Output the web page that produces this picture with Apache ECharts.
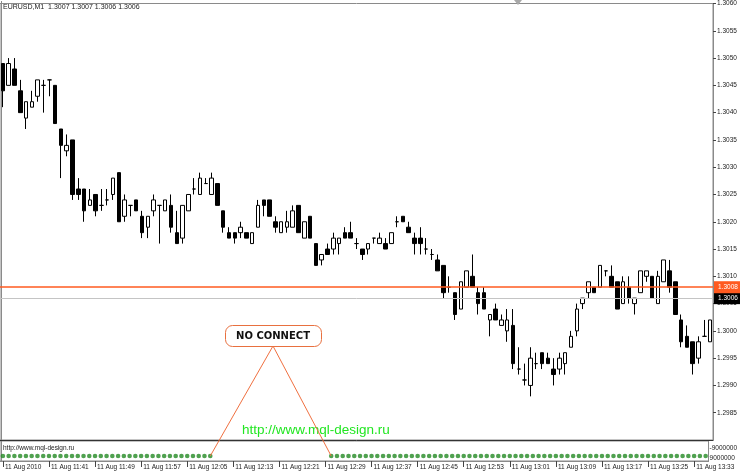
<!DOCTYPE html>
<html><head><meta charset="utf-8">
<script src="https://cdn.jsdelivr.net/npm/echarts@6/dist/echarts.min.js"></script>
<style>html,body{margin:0;padding:0;background:#fff}#c{width:740px;height:476px}</style>
</head><body><div id="c"></div>
<script>
// ---- data ----
const startHour = 11, startMinute = 33;
const openP = [1.3049,1.3045,1.3048,1.3044,1.3039,1.3041,1.3043,1.3045,1.3046,1.3045,
1.3037,1.3033,1.3035,1.3026,1.3026,1.3023,1.3025,1.3023,1.3024,1.3025,
1.3029,1.3021,1.3023,1.3024,1.3021,1.3019,1.3022,1.3023,1.3022,1.3023,
1.3018,1.3017,1.3022,1.3026,1.3025,1.3027,1.3025,1.3027,1.3022,1.3018,
1.3018,1.3018,1.3018,1.3016,1.3019,1.3024,1.3024,1.3020,1.3018,1.3019,
1.3019,1.3023,1.3017,1.3021,1.3016,1.3013,1.3015,1.3015,1.3016,1.3018,
1.3018,1.3016,1.3015,1.3015,1.3017,1.3016,1.3016,1.3016,1.3020,1.3021,
1.3019,1.3017,1.3017,1.3015,1.3014,1.3013,1.3012,1.3008,1.3007,1.3004,
1.3008,1.3010,1.3007,1.3007,1.3002,1.3004,1.3001,1.3000,1.3001,1.2993,
1.2991,1.2990,1.2994,1.2996,1.2995,1.2993,1.2993,1.2994,1.2997,1.3000,
1.3005,1.3007,1.3008,1.3008,1.3011,1.3010,1.3009,1.3005,1.3008,1.3005,
1.3007,1.3010,1.3010,1.3005,1.3009,1.3011,1.3009,1.3002,1.2999,1.2998,
1.2995,1.2999,1.2998];
const closeP = [1.3044,1.3049,1.3045,1.3040,1.3042,1.3042,1.3046,1.3045,1.3046,1.3038,
1.3034,1.3034,1.3025,1.3025,1.3022,1.3024,1.3022,1.3023,1.3024,1.3028,
1.3020,1.3024,1.3023,1.3022,1.3018,1.3021,1.3024,1.3023,1.3024,1.3019,
1.3016,1.3023,1.3025,1.3026,1.3028,1.3027,1.3028,1.3023,1.3019,1.3017,
1.3017,1.3019,1.3017,1.3018,1.3023,1.3023,1.3021,1.3019,1.3020,1.3020,
1.3022,1.3018,1.3020,1.3017,1.3012,1.3014,1.3014,1.3017,1.3017,1.3017,
1.3017,1.3016,1.3014,1.3016,1.3017,1.3017,1.3015,1.3018,1.3020,1.3020,
1.3018,1.3016,1.3016,1.3015,1.3014,1.3011,1.3007,1.3008,1.3003,1.3009,
1.3011,1.3008,1.3005,1.3004,1.3003,1.3002,1.3002,1.3002,1.2994,1.2993,
1.2991,1.2995,1.2994,1.2994,1.2994,1.2992,1.2995,1.2996,1.2999,1.3004,
1.3006,1.3009,1.3007,1.3012,1.3011,1.3008,1.3004,1.3009,1.3006,1.3006,
1.3011,1.3011,1.3006,1.3010,1.3013,1.3008,1.3003,1.2998,1.2997,1.2994,
1.2998,1.2999,1.3002];
const lowP = [1.3041,1.3045,1.3045,1.3040,1.3037,1.3041,1.3042,1.3040,1.3043,1.3038,
1.3028,1.3032,1.3024,1.3024,1.3020,1.3023,1.3021,1.3022,1.3023,1.3024,
1.3020,1.3020,1.3021,1.3022,1.3017,1.3017,1.3021,1.3016,1.3022,1.3018,
1.3016,1.3016,1.3022,1.3025,1.3025,1.3027,1.3025,1.3023,1.3018,1.3017,
1.3016,1.3017,1.3017,1.3016,1.3019,1.3021,1.3021,1.3018,1.3018,1.3018,
1.3019,1.3018,1.3017,1.3017,1.3012,1.3012,1.3014,1.3014,1.3014,1.3017,
1.3017,1.3015,1.3013,1.3014,1.3016,1.3016,1.3015,1.3016,1.3019,1.3020,
1.3018,1.3014,1.3014,1.3014,1.3013,1.3011,1.3006,1.3007,1.3002,1.3004,
1.3008,1.3008,1.3003,1.3004,1.2999,1.3002,1.3001,1.2998,1.2993,1.2992,
1.2990,1.2988,1.2993,1.2993,1.2994,1.2990,1.2992,1.2992,1.2997,1.2999,
1.3004,1.3006,1.3007,1.3008,1.3010,1.3008,1.3004,1.3005,1.3005,1.3003,
1.3007,1.3009,1.3006,1.3005,1.3009,1.3007,1.3003,1.2997,1.2997,1.2992,
1.2994,1.2999,1.2998];
const highP = [1.3049,1.3050,1.3050,1.3046,1.3042,1.3044,1.3046,1.3046,1.3046,1.3045,
1.3037,1.3036,1.3035,1.3028,1.3026,1.3026,1.3025,1.3026,1.3026,1.3028,
1.3029,1.3025,1.3023,1.3024,1.3022,1.3021,1.3025,1.3023,1.3024,1.3025,
1.3022,1.3023,1.3025,1.3028,1.3029,1.3028,1.3029,1.3027,1.3022,1.3019,
1.3018,1.3020,1.3018,1.3018,1.3024,1.3024,1.3024,1.3021,1.3020,1.3022,
1.3023,1.3023,1.3020,1.3021,1.3016,1.3014,1.3016,1.3018,1.3017,1.3019,
1.3020,1.3017,1.3015,1.3016,1.3017,1.3018,1.3017,1.3018,1.3021,1.3021,
1.3020,1.3018,1.3019,1.3017,1.3015,1.3014,1.3012,1.3010,1.3007,1.3009,
1.3011,1.3014,1.3008,1.3008,1.3003,1.3005,1.3003,1.3004,1.3004,1.2997,
1.2994,1.2997,1.2996,1.2996,1.2996,1.2995,1.2996,1.2996,1.3000,1.3005,
1.3006,1.3009,1.3008,1.3012,1.3011,1.3012,1.3009,1.3010,1.3010,1.3006,
1.3011,1.3011,1.3010,1.3011,1.3013,1.3013,1.3009,1.3003,1.3001,1.2998,
1.2999,1.3002,1.3002];
const tickLabels = ['11 Aug 2010','11 Aug 11:41','11 Aug 11:49','11 Aug 11:57','11 Aug 12:05',
  '11 Aug 12:13','11 Aug 12:21','11 Aug 12:29','11 Aug 12:37','11 Aug 12:45','11 Aug 12:53',
  '11 Aug 13:01','11 Aug 13:09','11 Aug 13:17','11 Aug 13:25','11 Aug 13:33'];
const tickEvery = 8;
// 1 = connected, 0 = no connection (indicator sub-window)
const connection = '1111111111111111111111111111111111111' + '00000000000000000000' +
  '111111111111111111111111111111111111111111111111111111111111111111';
const priceMin = 1.2980, priceMax = 1.3060, priceStep = 0.0005;
const levelOrange = 1.3008, levelBid = 1.3006;
const headerText = 'EURUSD,M1  1.3007 1.3007 1.3006 1.3006';
const subAxisLabels = ['-9000000', '9000000'];
const subAxisValues = [13, 3];
const dotLevel = 5;

// ---- build ----
function pad(n){ return (n < 10 ? '0' : '') + n; }
const cats = [];
{ let h = startHour, m = startMinute;
  for (let i = 0; i < openP.length; i++) { cats.push(pad(h) + ':' + pad(m)); m++; if (m === 60) { m = 0; h++; } } }
const candles = openP.map((o, i) => [o, closeP[i], lowP[i], highP[i]]);
const dots = connection.split('').map(c => c === '1' ? dotLevel : '-');
const gapLeft = connection.indexOf('0') - 1;
const gapRight = connection.lastIndexOf('0') + 1;
const showTick = (idx) => idx % tickEvery === 0;
const F = 'Liberation Sans, Arial, sans-serif';

function levelSeries(value, lineColor, lineWidth, boxColor) {
  return {type: 'line', xAxisIndex: 0, yAxisIndex: 0, data: [], silent: true,
    markLine: {silent: true, symbol: ['none', 'none'], animation: false, precision: 4,
      lineStyle: {color: lineColor, width: lineWidth, type: 'solid', opacity: 1},
      label: {show: true, position: 'end', distance: 1, formatter: value.toFixed(4), color: '#fff',
        backgroundColor: boxColor, padding: [3, 4, 2, 4], fontSize: 6.5, fontFamily: F},
      data: [{yAxis: value}]}};
}

const chart = echarts.init(document.getElementById('c'), null, {renderer: 'canvas'});
chart.setOption({
  animation: false,
  backgroundColor: '#ffffff',
  grid: [
    {left: -1, top: 1, width: 714, height: 439, show: true, borderColor: '#8a8a8a', borderWidth: 1},
    {left: -1, top: 441, width: 714, height: 20, show: true, borderColor: '#8a8a8a', borderWidth: 1}
  ],
  xAxis: [
    {gridIndex: 0, type: 'category', data: cats, boundaryGap: true,
     axisLine: {show: true, lineStyle: {color: '#333', width: 1}},
     axisTick: {show: false}, axisLabel: {show: false}, splitLine: {show: false}},
    {gridIndex: 1, type: 'category', data: cats, boundaryGap: true,
     axisLine: {show: true, lineStyle: {color: '#8a8a8a'}},
     axisTick: {show: true, interval: showTick, alignWithLabel: true, length: 6, lineStyle: {color: '#444'}},
     axisLabel: {show: true, interval: showTick, align: 'left', margin: 3, fontSize: 6.5,
       fontFamily: F, color: '#222', padding: [0, 0, 0, 2],
       formatter: (v, idx) => tickLabels[Math.round(idx / tickEvery)] || ''},
     splitLine: {show: false}}
  ],
  yAxis: [
    {gridIndex: 0, type: 'value', position: 'right', min: priceMin, max: priceMax, interval: priceStep,
     axisLine: {show: true, lineStyle: {color: '#8a8a8a'}},
     axisTick: {show: true, length: 3, lineStyle: {color: '#444'}},
     axisLabel: {show: true, margin: 4, fontSize: 6.5, fontFamily: F, color: '#222',
       showMinLabel: false, formatter: v => v.toFixed(4)},
     splitLine: {show: false}},
    {gridIndex: 1, type: 'value', position: 'right', min: 0, max: 20,
     axisLine: {show: true, lineStyle: {color: '#8a8a8a'}},
     axisTick: {show: false},
     axisLabel: {show: true, customValues: subAxisValues, margin: 1, fontSize: 6.5, fontFamily: F, color: '#222',
       formatter: v => subAxisLabels[subAxisValues.indexOf(v)] || ''},
     splitLine: {show: false}}
  ],
  series: [
    levelSeries(levelBid, '#c4c4c4', 1, '#000000'),
    levelSeries(levelOrange, '#FF5A1F', 1.5, '#FF5A1F'),
    {type: 'candlestick', xAxisIndex: 0, yAxisIndex: 0, data: candles, barWidth: 4, z: 3,
     itemStyle: {color: '#ffffff', color0: '#000000', borderColor: '#000000', borderColor0: '#000000', borderWidth: 1}},
    {type: 'scatter', xAxisIndex: 1, yAxisIndex: 1, data: dots, symbolSize: 4.6, clip: false,
     itemStyle: {color: '#238a23'},
     markLine: {silent: true, symbol: ['none', 'none'], animation: false,
       lineStyle: {color: '#F07040', width: 1, type: 'solid'}, label: {show: false},
       data: [
         [{x: 273, y: 346}, {coord: [cats[gapLeft], dotLevel]}],
         [{x: 273, y: 346}, {coord: [cats[gapRight], dotLevel]}]
       ]}}
  ],
  graphic: [
    {type: 'line', shape: {x1: 1.5, y1: 1, x2: 1.5, y2: 461}, style: {stroke: '#8a8a8a', lineWidth: 1}},
    {type: 'text', left: 3, top: 4, style: {text: headerText, font: '7px ' + F, fill: '#222'}},
    {type: 'polygon', shape: {points: [[514, 0], [522, 0], [518, 5]]}, style: {fill: '#a8a8a8'}},
    {type: 'rect', shape: {x: 225.5, y: 325.5, width: 96, height: 21, r: 7},
     style: {fill: '#fff', stroke: '#E8703F', lineWidth: 1}, z: 10},
    {type: 'text', x: 273, y: 336, z: 11,
     style: {text: 'NO CONNECT', font: 'bold 10px DejaVu Sans, sans-serif', fill: '#111', align: 'center', verticalAlign: 'middle'}},
    {type: 'text', left: 242, top: 423, style: {text: 'http://www.mql-design.ru', font: '13.5px ' + F, fill: '#22E622'}},
    {type: 'text', left: 3, top: 445, style: {text: 'http://www.mql-design.ru', font: '6.5px ' + F, fill: '#222'}}
  ]
});
</script></body></html>
